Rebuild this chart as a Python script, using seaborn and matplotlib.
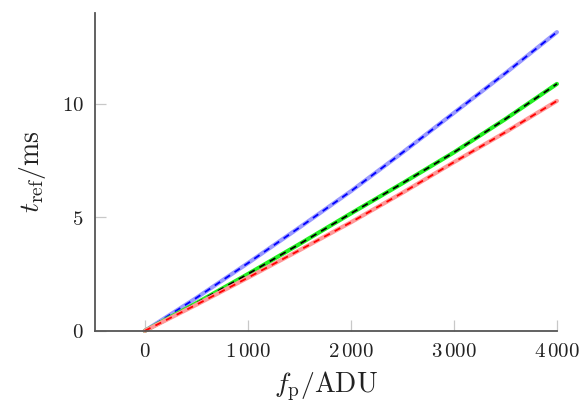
import matplotlib
matplotlib.use("Agg")
import matplotlib.pyplot as plt
import seaborn as sns
import pandas as pd

# Flux in ADU and reference exposure time (ms) for the three colour channels
flux = [0, 500, 1000, 1500, 2000, 2500, 3000, 3500, 4000]
t_blue = [0, 1.45, 2.98, 4.55, 6.15, 7.85, 9.60, 11.35, 13.16]
t_green = [0, 1.22, 2.50, 3.82, 5.17, 6.50, 7.86, 9.33, 10.88]
t_red = [0, 1.15, 2.34, 3.55, 4.78, 6.08, 7.43, 8.75, 10.13]

x_ticks = [0, 1000, 2000, 3000, 4000]
x_tick_labels = [r"$0$", r"$1\,000$", r"$2\,000$", r"$3\,000$", r"$4\,000$"]
y_ticks = [0, 5, 10]
y_tick_labels = [r"$0$", r"$5$", r"$10$"]

sns.set_theme(style="white")
plt.rcParams["mathtext.fontset"] = "cm"
plt.rcParams["font.family"] = ["DejaVu Serif"]

fig = plt.figure(figsize=(5.85, 4.08), dpi=100)
ax = fig.add_axes([0.162, 0.189, 0.79, 0.779])

# (values, underlay colour, dash colour)
channels = [
    (t_blue, (0.6, 0.6, 1.0), "#0000ff"),
    (t_green, "#22ee22", "#000000"),
    (t_red, (1.0, 0.6, 0.6), "#ff0000"),
]

for values, base_col, dash_col in channels:
    df = pd.DataFrame({"flux": flux, "t": values})
    sns.lineplot(data=df, x="flux", y="t", ax=ax, color=base_col,
                 linewidth=3.0, solid_capstyle="round", clip_on=False)
    sns.lineplot(data=df, x="flux", y="t", ax=ax, color=dash_col,
                 linewidth=1.3, clip_on=False)
    ax.lines[-1].set_dashes((3.6, 3.0))

ax.set_xlim(-485, 4000)
ax.set_ylim(0, 14)
ax.set_xticks(x_ticks, x_tick_labels)
ax.set_yticks(y_ticks, y_tick_labels)
ax.tick_params(axis="both", direction="in", length=8, width=0.9,
               color="#c8c8c8", labelsize=15, labelcolor="#222222", pad=8,
               bottom=True, left=True)

for side in ("top", "right"):
    ax.spines[side].set_visible(False)
for side in ("left", "bottom"):
    ax.spines[side].set_color("#555555")
    ax.spines[side].set_linewidth(1.3)

ax.set_xlabel(r"$f_{\mathrm{p}}/\mathrm{ADU}$", fontsize=20, color="#222222", labelpad=6)
ax.set_ylabel(r"$t_{\mathrm{ref}}/\mathrm{ms}$", fontsize=20, color="#222222", labelpad=10)

fig.savefig("out.png", dpi=100)
